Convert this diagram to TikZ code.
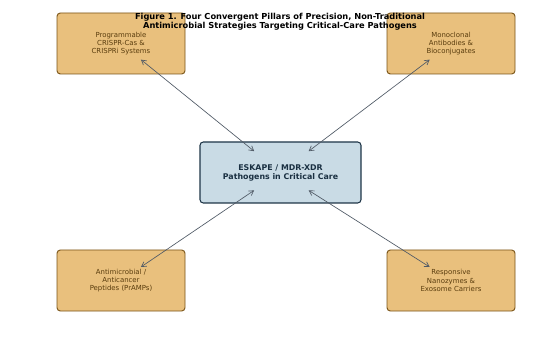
\documentclass[tikz,border=0pt]{standalone}
\usepackage{fontspec}
\setmainfont{DejaVu Sans}
\usetikzlibrary{calc,arrows.meta}
\definecolor{pillarfill}{HTML}{E9C07D}
\definecolor{pillaredge}{HTML}{7A5417}
\definecolor{pillartext}{HTML}{5A3D0E}
\definecolor{corefill}{HTML}{C9DBE5}
\definecolor{coreedge}{HTML}{1E3547}
\definecolor{coretext}{HTML}{1A3042}
\definecolor{link}{HTML}{505A66}

\begin{document}
\begin{tikzpicture}[x=0.75pt,y=-0.75pt,
  pillar/.style={draw=pillaredge,fill=pillarfill,line width=.7pt,rounded corners=2.5pt,
    minimum width=96pt,minimum height=45.75pt,align=center,text=pillartext,
    font=\fontsize{5.2}{6.3}\selectfont},
  core/.style={draw=coreedge,fill=corefill,line width=.8pt,rounded corners=2.5pt,
    minimum width=120.75pt,minimum height=45.75pt,align=center,text=coretext,
    font=\fontsize{5.9}{6.8}\selectfont\bfseries},
  link/.style={draw=link,line width=.5pt,{Straight Barb[length=3.5pt,width=4pt]}-{Straight Barb[length=3.5pt,width=4pt]}}]
  \useasboundingbox (0,0) rectangle (560,345);
  \node[core] (ctr) at (280.5,172.5) {ESKAPE / MDR-XDR\\Pathogens in Critical Care};
  \node[pillar] (crispr) at (121,43.5) {Programmable\\CRISPR-Cas \&\\CRISPRi Systems};
  \node[pillar] (mab) at (451,43.5) {Monoclonal\\Antibodies \&\\Bioconjugates};
  \node[pillar] (pep) at (121,280.5) {Antimicrobial /\\Anticancer\\Peptides (PrAMPs)};
  \node[pillar] (nano) at (451,280.5) {Responsive\\Nanozymes \&\\Exosome Carriers};
  \node[font=\fontsize{6.2}{6.8}\selectfont\bfseries,align=center] (title) at (280,21.5)
    {Figure 1. Four Convergent Pillars of Precision, Non-Traditional\\Antimicrobial Strategies Targeting Critical-Care Pathogens};
  \foreach \p in {crispr,mab,pep,nano}
    \draw[link] ($(ctr)!0.165!(\p)$) -- ($(ctr)!0.875!(\p)$);
\end{tikzpicture}
\end{document}
